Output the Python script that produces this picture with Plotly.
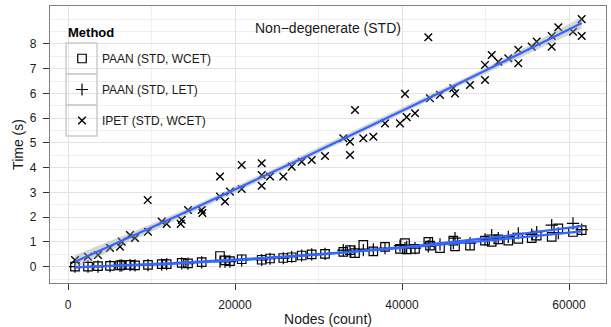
import numpy as np
import plotly.graph_objects as go

# ---------------- data ----------------
nodes_ipet = [838, 2395, 3593, 5030, 6228, 6431, 7425, 8024, 9545, 9581,
              11222, 11820, 13617, 13500, 14371, 16012, 16100, 18204, 18204, 18802,
              19401, 20802, 20802, 23198, 23198, 23198, 24192, 25784, 26790, 27988,
              29185, 30779, 32970, 33772, 33772, 34371, 35365, 36563, 37964, 39760,
              40359, 40563, 41557, 43150, 43354, 44551, 46144, 46347, 48143, 49940,
              49940, 50742, 51532, 52730, 53928, 53928, 55533, 56132, 57928, 57928,
              58718, 60479, 61521, 61521]
time_ipet = [0.27, 0.40, 0.47, 0.76, 0.81, 1.01, 1.28, 1.16, 2.69, 1.41,
             1.82, 1.73, 1.89, 1.73, 2.29, 2.29, 2.17, 3.64, 2.83, 2.63,
             3.03, 4.11, 3.14, 4.18, 3.70, 3.27, 3.64, 3.64, 4.04, 4.24,
             4.31, 4.47, 5.19, 5.05, 4.51, 6.33, 5.19, 5.25, 5.79, 5.79,
             6.98, 6.04, 6.20, 9.27, 6.80, 6.94, 7.21, 7.00, 7.34, 8.15,
             7.54, 8.55, 8.28, 8.42, 8.76, 8.22, 8.89, 9.09, 9.32, 8.89,
             9.67, 9.49, 10.00, 9.32]

nodes_paan = [838, 2395, 3593, 5030, 6228, 6431, 7425, 8024, 9581, 11222,
              11820, 13617, 14371, 16012, 18204, 18802, 19401, 20802, 23198, 24192,
              25784, 26790, 27988, 29185, 30779, 32970, 33772, 34371, 35365, 36563,
              37964, 39760, 40359, 40563, 41557, 43150, 43354, 44551, 46144, 46347,
              48143, 49940, 50742, 51532, 52730, 53928, 55533, 56132, 57928, 58718,
              60479, 61521]
time_paan_wcet = [0.00, 0.00, 0.02, 0.03, 0.05, 0.06, 0.07, 0.05, 0.07, 0.10,
                  0.10, 0.15, 0.13, 0.18, 0.43, 0.25, 0.22, 0.30, 0.28, 0.33,
                  0.35, 0.38, 0.45, 0.50, 0.52, 0.60, 0.67, 0.55, 0.88, 0.62,
                  0.80, 0.72, 0.95, 0.70, 0.72, 1.00, 0.85, 0.75, 1.05, 0.82,
                  0.85, 1.05, 1.00, 1.10, 1.05, 1.12, 1.15, 1.25, 1.20, 1.55,
                  1.40, 1.48]
time_paan_let = [0.00, 0.00, 0.00, 0.02, 0.04, 0.05, 0.06, 0.05, 0.06, 0.08,
                 0.10, 0.13, 0.12, 0.17, 0.20, 0.20, 0.20, 0.25, 0.27, 0.32,
                 0.34, 0.40, 0.45, 0.50, 0.52, 0.67, 0.62, 0.62, 0.67, 0.70,
                 0.75, 0.85, 0.75, 0.80, 0.75, 0.82, 0.95, 0.90, 0.95, 1.15,
                 0.95, 1.10, 1.28, 1.15, 1.20, 1.35, 1.30, 1.40, 1.68, 1.35,
                 1.75, 1.50]

series_names = ["PAAN (STD, WCET)", "PAAN (STD, LET)", "IPET (STD, WCET)"]
legend_title = "Method"
x_tick_vals = [0, 20000, 40000, 60000]
x_tick_text = ["0", "20000", "40000", "60000"]
y_tick_vals = [0, 1, 2, 3, 4, 5, 6, 7, 8, 9]
y_tick_text = ["0", "1", "2", "3", "4", "5", "6", "6", "7", "8"]
panel_title = "Non\u2212degenerate (STD)"

# ---------------- styling / layout ----------------
W, H = 611, 327
ML, MR, MT, MB = 50, 5, 6, 44
FONT = "Liberation Sans, Arial, Helvetica, sans-serif"
TXT = "#1a1a1a"
BLUE = "#3366FF"
RIBBON = "rgba(153,153,153,0.4)"
pw, ph = W - ML - MR, H - MT - MB


def px_to_paper(px, py):
    return (px - ML) / pw, (H - MB - py) / ph


def smooth_fit(x, y, deg=2, n=100, k=1.4):
    x = np.asarray(x, float) / 1e4
    y = np.asarray(y, float)
    X = np.vander(x, deg + 1)
    beta, *_ = np.linalg.lstsq(X, y, rcond=None)
    resid = y - X @ beta
    s2 = resid @ resid / (len(x) - deg - 1)
    xtxi = np.linalg.inv(X.T @ X)
    xs = np.linspace(x.min(), x.max(), n)
    Xs = np.vander(xs, deg + 1)
    fit = Xs @ beta
    se = np.sqrt(np.einsum("ij,jk,ik->i", Xs, xtxi, Xs) * s2)
    return xs * 1e4, fit, fit - k * se, fit + k * se


fig = go.Figure()

marker_styles = [
    dict(symbol="square-open", size=8.5, color="black", line=dict(width=1.2, color="black")),
    dict(symbol="cross-thin-open", size=8.7, color="black", line=dict(width=1.2, color="black")),
    dict(symbol="x-thin-open", size=7.6, color="black", line=dict(width=1.4, color="black")),
]
data_sets = [(nodes_paan, time_paan_wcet), (nodes_paan, time_paan_let), (nodes_ipet, time_ipet)]
legend_ids = ["legend", "legend2", "legend3"]

for i, ((xs, ys), name) in enumerate(zip(data_sets, series_names)):
    fig.add_trace(go.Scatter(x=xs, y=ys, mode="markers", name=name,
                             marker=marker_styles[i], legend=legend_ids[i],
                             showlegend=True))

fits = [smooth_fit(xs, ys) for (xs, ys) in data_sets]
for fx, fy, lo, hi in fits:
    fig.add_trace(go.Scatter(x=np.concatenate([fx, fx[::-1]]),
                             y=np.concatenate([hi, lo[::-1]]),
                             fill="toself", fillcolor=RIBBON, line=dict(width=0),
                             mode="lines", hoverinfo="skip", showlegend=False))
for fx, fy, lo, hi in fits:
    fig.add_trace(go.Scatter(x=fx, y=fy, mode="lines",
                             line=dict(color=BLUE, width=2.2),
                             showlegend=False))

# legend background + key boxes (ggplot-style)
shapes = []
bx0, by0 = px_to_paper(59, 141)
bx1, by1 = px_to_paper(217, 21)
shapes.append(dict(type="rect", xref="paper", yref="paper", x0=bx0, y0=by0, x1=bx1, y1=by1,
                   line=dict(width=0), fillcolor="white", layer="between"))
key_left, key_right = 66, 97
key_tops = [43, 74, 105, 136]
row_centers = []
for k in range(3):
    x0, y0 = px_to_paper(key_left, key_tops[k + 1])
    x1, y1 = px_to_paper(key_right, key_tops[k])
    row_centers.append((key_tops[k] + key_tops[k + 1]) / 2)
    shapes.append(dict(type="rect", xref="paper", yref="paper", x0=x0, y0=y0, x1=x1, y1=y1,
                       line=dict(color="#cccccc", width=1.5), fillcolor="rgba(0,0,0,0)",
                       layer="above"))

legend_x = px_to_paper(62, 0)[0]
legends = {}
for i, lid in enumerate(legend_ids):
    legends[lid] = dict(x=legend_x, y=px_to_paper(0, row_centers[i])[1],
                        xanchor="left", yanchor="middle",
                        bgcolor="rgba(0,0,0,0)", borderwidth=0,
                        font=dict(size=12, family=FONT, color=TXT), itemsizing="trace")

fig.update_layout(
    width=W, height=H,
    margin=dict(l=ML, r=MR, t=MT, b=MB, autoexpand=False),
    paper_bgcolor="white", plot_bgcolor="white",
    font=dict(family=FONT, size=12, color=TXT),
    showlegend=True,
    shapes=shapes,
    annotations=[
        dict(text=panel_title, xref="paper", yref="paper",
             x=0.5, y=px_to_paper(0, 28.3)[1], xanchor="center", yanchor="middle",
             showarrow=False, font=dict(size=14, family=FONT, color=TXT)),
        dict(text="<b>" + legend_title + "</b>", xref="paper", yref="paper",
             x=px_to_paper(66, 0)[0], y=px_to_paper(0, 32.5)[1], xanchor="left", yanchor="middle",
             showarrow=False, font=dict(size=13, family=FONT, color="black")),
    ],
    xaxis=dict(range=[-2156, 64431], tickvals=x_tick_vals, ticktext=x_tick_text,
               automargin=False,
               showgrid=True, gridcolor="#e3e3e3", gridwidth=1,
               minor=dict(showgrid=True, dtick=10000, tick0=0, gridcolor="#efefef", gridwidth=1),
               zeroline=False, showline=True, mirror=True, linecolor="#808080", linewidth=1.3,
               ticks="outside", ticklen=6, tickwidth=1.3, tickcolor="#333333",
               tickfont=dict(size=12, color=TXT), ticklabelstandoff=4,
               title=dict(text="Nodes (count)", font=dict(size=14, color=TXT), standoff=5)),
    yaxis=dict(range=[-0.66, 10.53], tickvals=y_tick_vals, ticktext=y_tick_text,
               automargin=False,
               showgrid=True, gridcolor="#e3e3e3", gridwidth=1,
               minor=dict(showgrid=True, dtick=0.5, tick0=0, gridcolor="#efefef", gridwidth=1),
               zeroline=False, showline=True, mirror=True, linecolor="#808080", linewidth=1.3,
               ticks="outside", ticklen=6, tickwidth=1.3, tickcolor="#333333",
               tickfont=dict(size=12, color=TXT), ticklabelstandoff=4,
               title=dict(text="Time (s)", font=dict(size=14, color=TXT), standoff=2)),
    **legends,
)

fig.write_html("out.html")
